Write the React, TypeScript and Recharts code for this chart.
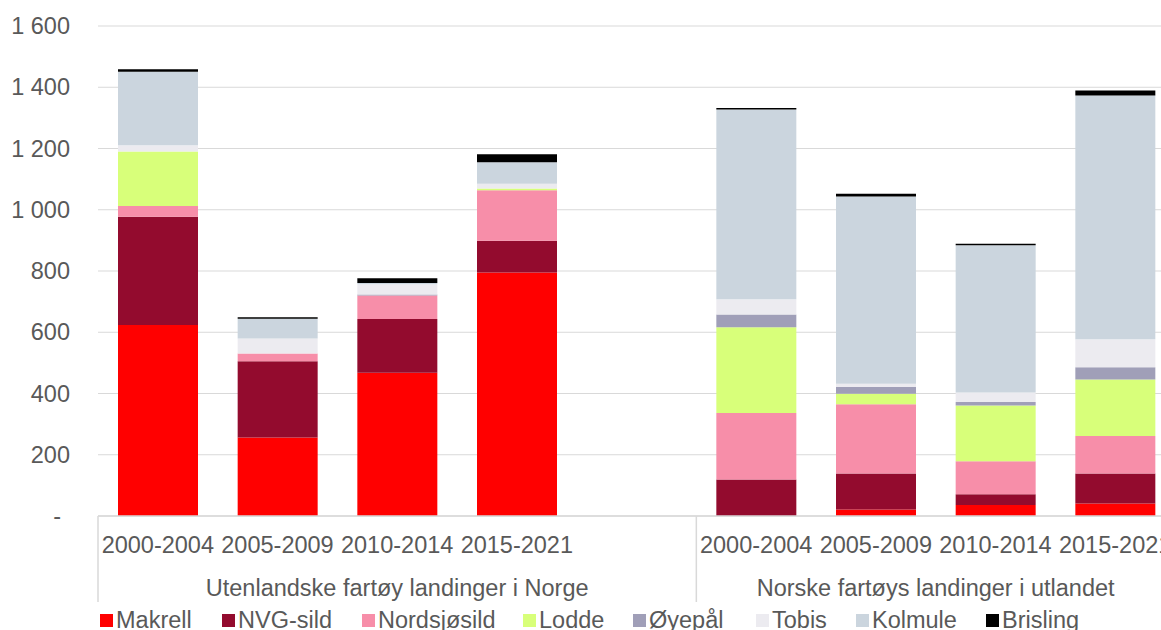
import { Bar, BarChart, CartesianGrid, XAxis, YAxis } from 'recharts';

const periods = [
  '2000-2004', '2005-2009', '2010-2014', '2015-2021', '',
  '2000-2004', '2005-2009', '2010-2014', '2015-2021',
];
const groups = ['Utenlandske fartøy landinger i Norge', 'Norske fartøys landinger i utlandet'];
const groupSpans = [5, 4];

const makrell = [624, 256, 468, 795, 0, 0, 21, 36, 41];
const nvgSild = [353, 249, 175, 104, 0, 119, 118, 35, 98];
const nordsjosild = [35, 26, 77, 165, 0, 217, 226, 108, 122];
const lodde = [178, 0, 0, 5, 0, 280, 34, 182, 185];
const oyepal = [0, 0, 3, 0, 0, 42, 22, 11, 40];
const tobis = [21, 49, 34, 16, 0, 50, 11, 31, 91];
const kolmule = [240, 64, 4, 70, 0, 619, 611, 481, 796];
const brisling = [8, 5, 15, 26, 0, 5, 9, 5, 16];

const yTicks = [0, 200, 400, 600, 800, 1000, 1200, 1400, 1600];

const SERIES = [
  { key: 'makrell', name: 'Makrell', color: '#ff0000', values: makrell },
  { key: 'nvgSild', name: 'NVG-sild', color: '#930b2e', values: nvgSild },
  { key: 'nordsjosild', name: 'Nordsjøsild', color: '#f78ea9', values: nordsjosild },
  { key: 'lodde', name: 'Lodde', color: '#d8ff7a', values: lodde },
  { key: 'oyepal', name: 'Øyepål', color: '#a09fb8', values: oyepal },
  { key: 'tobis', name: 'Tobis', color: '#ecebf0', values: tobis },
  { key: 'kolmule', name: 'Kolmule', color: '#cbd5de', values: kolmule },
  { key: 'brisling', name: 'Brisling', color: '#000000', values: brisling },
];

const data = periods.map((period, i) => {
  const row: Record<string, string | number> = { period };
  SERIES.forEach((s) => {
    row[s.key] = s.values[i];
  });
  return row;
});

const FONT = "'Liberation Sans', Arial, sans-serif";
const TEXT = '#595959';
const GRID = '#d9d9d9';
const CHART_W = 1175;
const CHART_H = 630;
const Y_W = 98;
const SLOT = (CHART_W - Y_W) / periods.length;
// legend item left edges, Excel spaces them unevenly
const LEGEND_X = [100, 222, 362, 523, 633, 756, 856, 986];

const groupStarts = groupSpans.map((_, g) => groupSpans.slice(0, g).reduce((a, b) => a + b, 0));

const fmtY = (v: number) => String(v).replace(/\B(?=(\d{3})+(?!\d))/g, ' ');

function YTick({ x, y, payload }: any) {
  const v = payload.value as number;
  return (
    <text
      x={v === 0 ? x - 9 : x}
      y={y}
      textAnchor="end"
      dominantBaseline="central"
      fill={TEXT}
      fontSize={23.5}
      fontFamily={FONT}
    >
      {v === 0 ? '-' : fmtY(v)}
    </text>
  );
}

function XTick({ x, y, payload, index }: any) {
  const g = groupStarts.indexOf(index);
  const left = x - SLOT / 2;
  return (
    <g>
      <text x={x} y={y + 37} textAnchor="middle" fill={TEXT} fontSize={23.5} fontFamily={FONT}>
        {payload.value}
      </text>
      {g >= 0 && (
        <>
          <line x1={left} x2={left} y1={y} y2={y + 86} stroke={GRID} strokeWidth={1.5} />
          <text
            x={x + ((groupSpans[g] - 1) * SLOT) / 2}
            y={y + 80}
            textAnchor="middle"
            fill={TEXT}
            fontSize={23.5}
            fontFamily={FONT}
          >
            {groups[g]}
          </text>
        </>
      )}
      {index === periods.length - 1 && (
        <line x1={x + SLOT / 2} x2={x + SLOT / 2} y1={y} y2={y + 86} stroke={GRID} strokeWidth={1.5} />
      )}
    </g>
  );
}

export default function App() {
  return (
    <div
      style={{
        position: 'fixed',
        left: 0,
        top: 0,
        width: 1161,
        height: 630,
        overflow: 'hidden',
        background: '#fff',
        fontFamily: FONT,
      }}
    >
      <BarChart
        width={CHART_W}
        height={CHART_H}
        data={data}
        margin={{ top: 26, right: 0, left: 0, bottom: 0 }}
        barSize={80}
      >
        <CartesianGrid vertical={false} stroke={GRID} strokeWidth={1.2} />
        <YAxis
          width={Y_W}
          domain={[0, 1600]}
          ticks={yTicks}
          axisLine={false}
          tickLine={false}
          tickSize={0}
          tickMargin={28}
          tick={<YTick />}
          interval={0}
        />
        <XAxis
          dataKey="period"
          height={114}
          interval={0}
          axisLine={{ stroke: GRID, strokeWidth: 1.5 }}
          tickLine={false}
          tickSize={0}
          tickMargin={0}
          tick={<XTick />}
        />
        {SERIES.map((s) => (
          <Bar
            key={s.key}
            dataKey={s.key}
            name={s.name}
            stackId="a"
            fill={s.color}
            isAnimationActive={false}
          />
        ))}
      </BarChart>
      {SERIES.map((s, i) => (
        <div
          key={s.key}
          style={{
            position: 'absolute',
            left: LEGEND_X[i],
            top: 606,
            display: 'flex',
            alignItems: 'center',
            fontSize: 23.5,
            color: TEXT,
            lineHeight: '28px',
            whiteSpace: 'nowrap',
          }}
        >
          <span
            style={{ width: 13, height: 13, background: s.color, display: 'inline-block', marginRight: 3 }}
          />
          <span>{s.name}</span>
        </div>
      ))}
    </div>
  );
}
